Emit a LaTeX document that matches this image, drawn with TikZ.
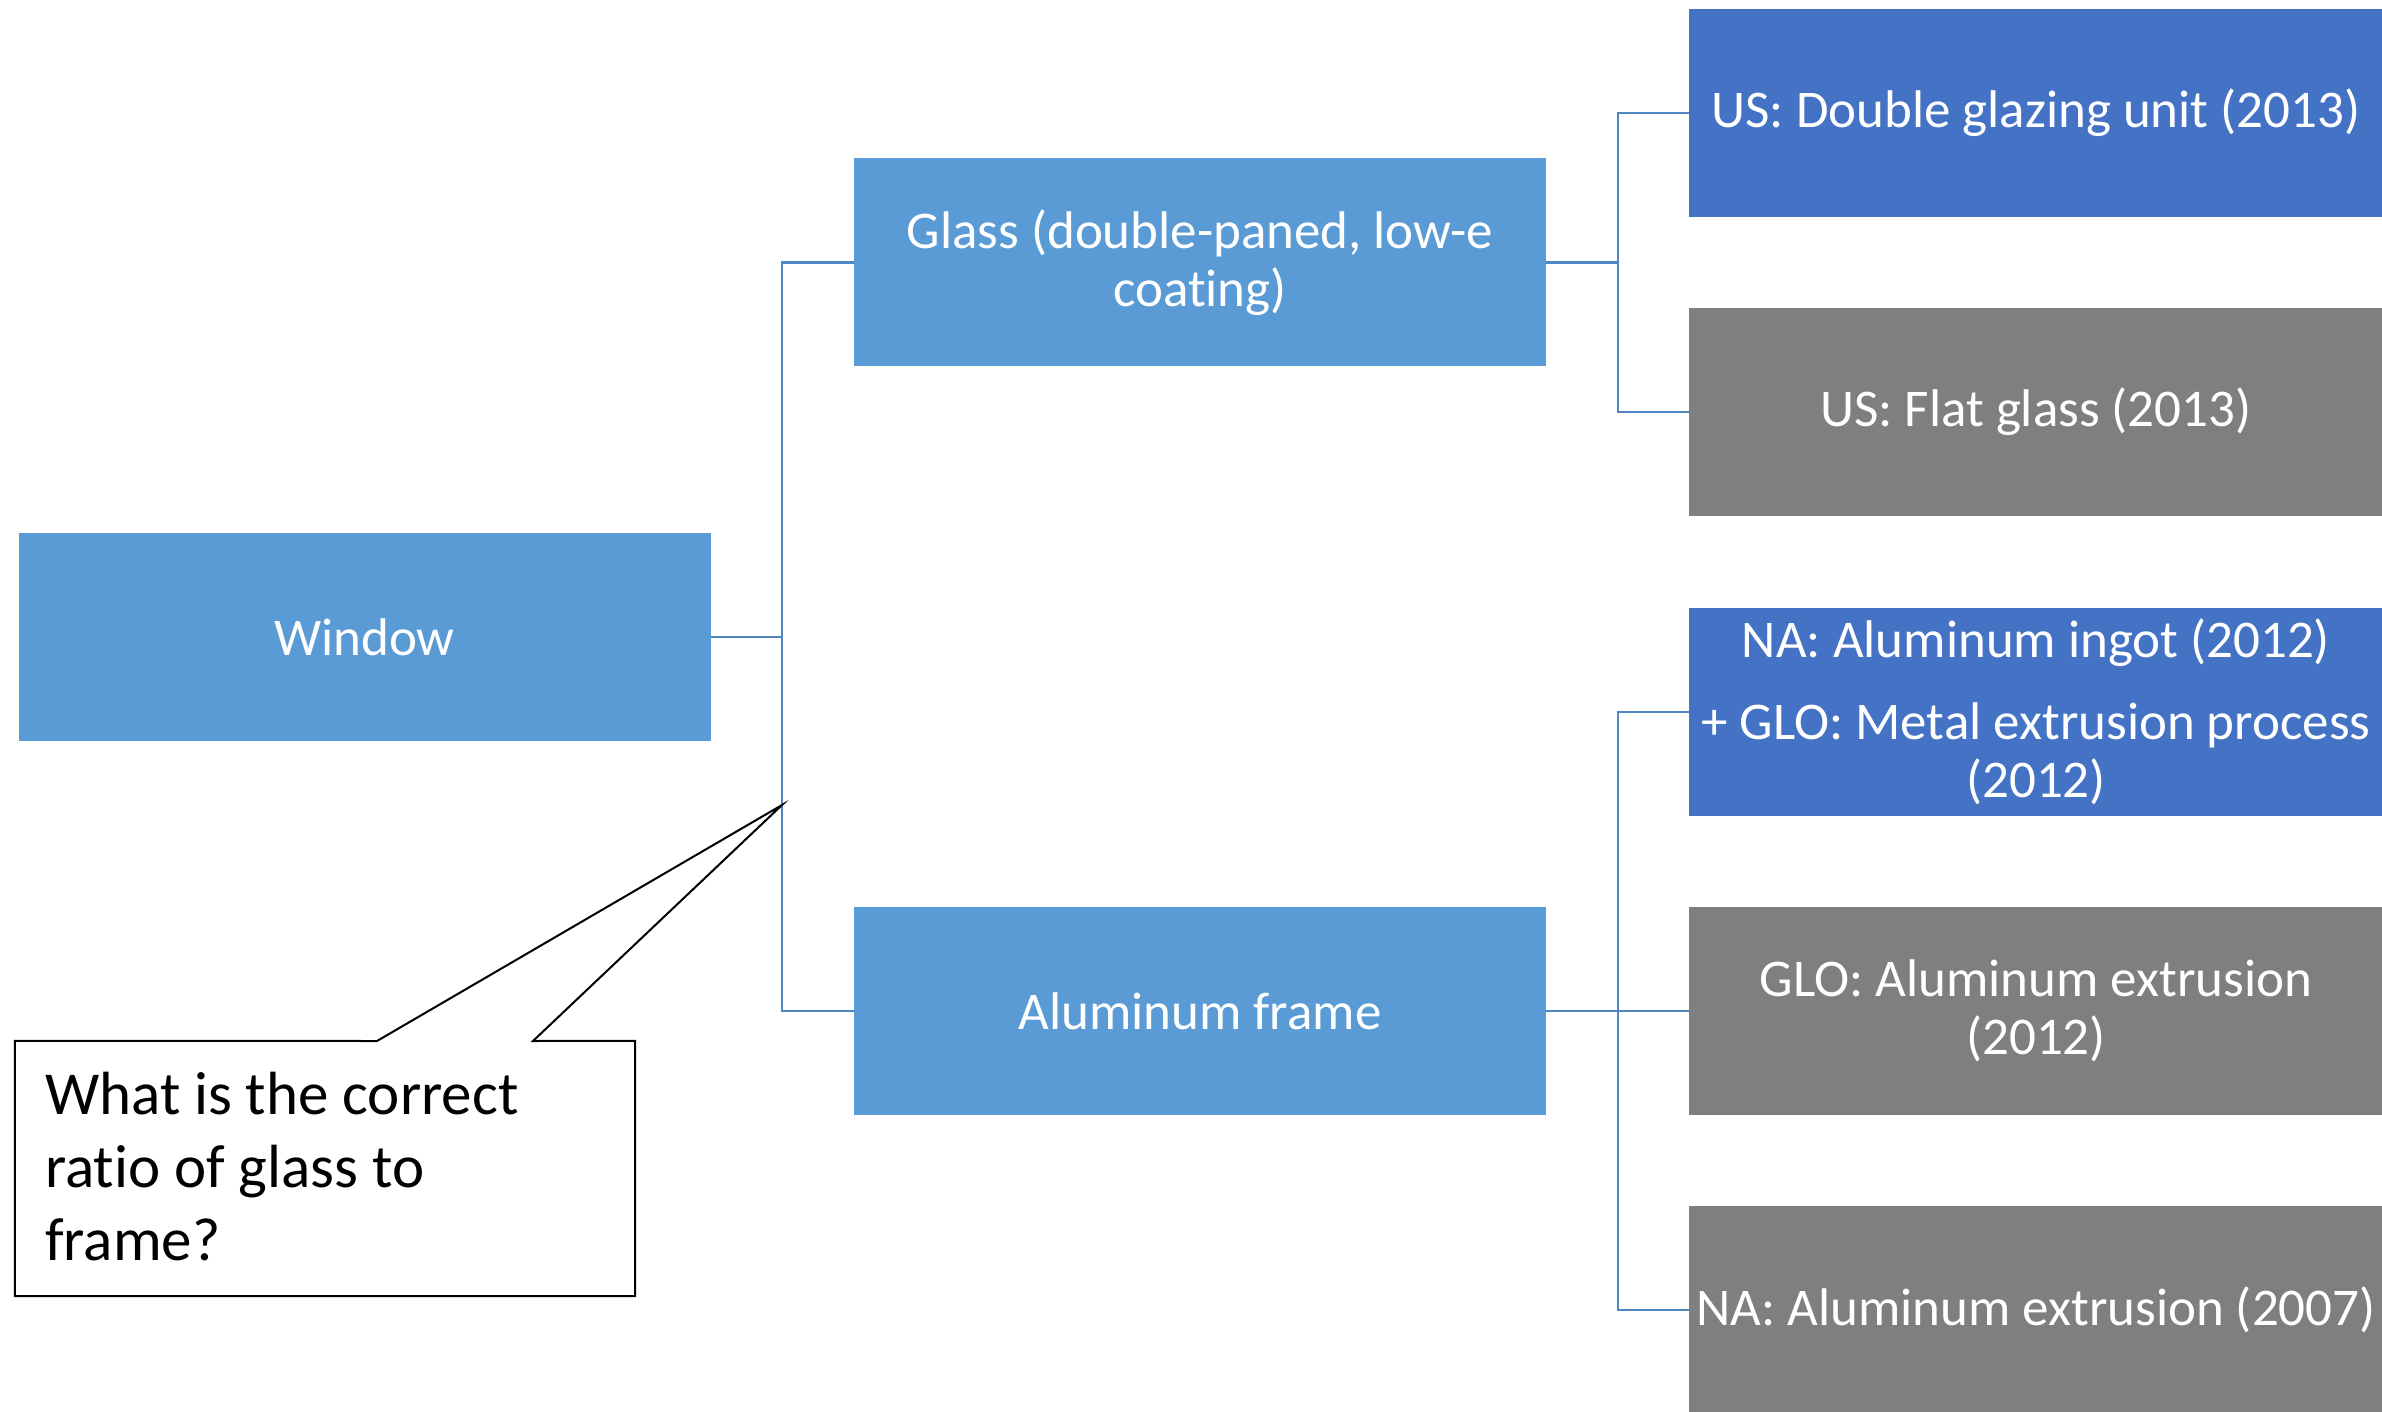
\documentclass[tikz,border=0pt]{standalone}
\usepackage{fontspec}
\setmainfont[Ligatures=NoCommon]{Carlito}
\definecolor{lightblue}{HTML}{5B9BD5}
\definecolor{darkblue}{HTML}{4472C4}
\definecolor{midgray}{HTML}{7F7F7F}
\definecolor{linkblue}{RGB}{80,135,195}
\tikzset{
  box/.style={rectangle, inner sep=0pt, minimum width=692pt, minimum height=208pt,
    text=white, align=center, font=\fontsize{53}{58}\selectfont},
  lightbox/.style={box, fill=lightblue},
  bluebox/.style={box, fill=darkblue, minimum width=694pt},
  graybox/.style={box, fill=midgray, minimum width=694pt},
  conn/.style={draw=linkblue, line width=2.2pt},
}
\begin{document}
\begin{tikzpicture}[x=1pt, y=-1pt]
  \useasboundingbox (0,0) rectangle (2382,1412);

  % main hierarchy
  \node[lightbox] (win)   at (364.5,637)  {Window};
  \node[lightbox] (glass) at (1200,262.5) {Glass (double-paned, low-e\\coating)};
  \node[lightbox] (frame) at (1200,1011)  {Aluminum frame};

  % data sources
  \node[bluebox] (r1) at (2036,113)  {US: Double glazing unit (2013)};
  \node[graybox] (r2) at (2036,412)  {US: Flat glass (2013)};
  \node[bluebox] (r3) at (2036,712)  {NA: Aluminum ingot (2012)\\[24pt]+ GLO: Metal extrusion process\\(2012)};
  \node[graybox] (r4) at (2036,1011) {GLO: Aluminum extrusion\\(2012)};
  \node[graybox] (r5) at (2036,1310) {NA: Aluminum extrusion (2007)};

  % connectors
  \draw[conn] (win.east) -- ++(71,0);
  \draw[conn] (glass.west) -- ++(-72,0) |- (frame.west);
  \draw[conn] (glass.east) -- ++(72,0);
  \draw[conn] (r1.west) -- ++(-71,0) |- (r2.west);
  \draw[conn] (r3.west) -- ++(-71,0) |- (r5.west);
  \draw[conn] (frame.east) -- (r4.west);

  % callout
  \coordinate (tip) at (782,805);
  \node[rectangle, inner sep=0pt, minimum width=620pt, minimum height=255pt] (ask) at (325,1168.5) {};
  \draw[black, line width=2pt, line join=miter]
    (ask.north west) -- (377,1041) -- (tip) -- (533,1041) -- (ask.north east)
    -- (ask.south east) -- (ask.south west) -- cycle;
  \node[anchor=west, inner sep=0pt, align=left, font=\fontsize{61}{73}\selectfont] (asktext)
    at (45,1167) {What is the correct\\ratio of glass to\\frame?};
\end{tikzpicture}
\end{document}
